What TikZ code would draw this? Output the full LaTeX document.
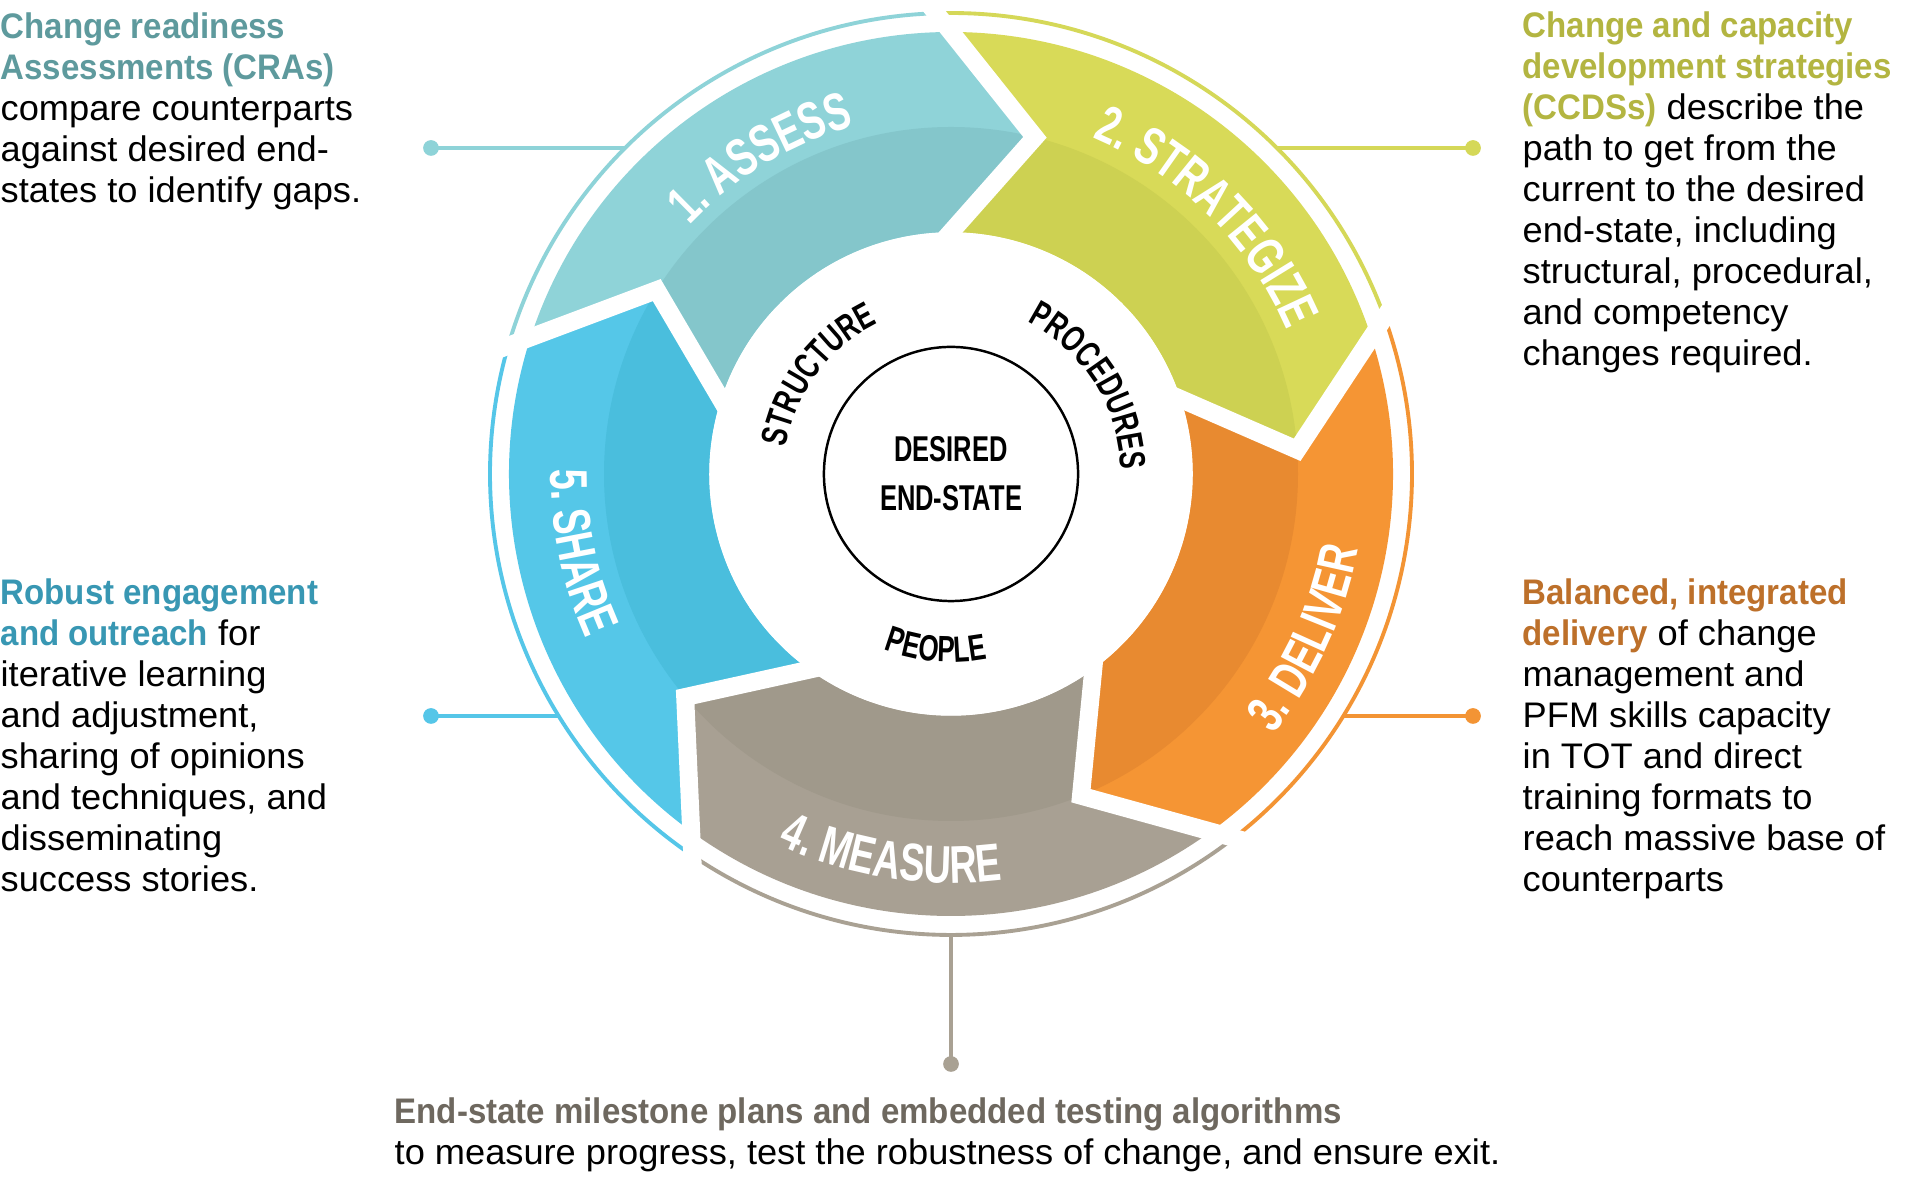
\documentclass[tikz,border=0pt]{standalone}
\usepackage{fontspec}
\setmainfont{Liberation Sans}
\newfontfamily\bodyfont{Liberation Sans}[FakeStretch=1.02]
\newfontfamily\titlefont{Liberation Sans}[FakeStretch=0.93]
\newfontfamily\condfont{Liberation Sans}[FakeStretch=0.71]
\usetikzlibrary{decorations.text,calc}

\definecolor{aL}{HTML}{8FD3D8}\definecolor{aD}{HTML}{84C6CB}\definecolor{aR}{HTML}{8ED3D8}
\definecolor{sL}{HTML}{D8DA58}\definecolor{sD}{HTML}{CDD152}\definecolor{sR}{HTML}{D5D858}
\definecolor{dL}{HTML}{F59534}\definecolor{dD}{HTML}{E88A30}\definecolor{dR}{HTML}{F39434}
\definecolor{mL}{HTML}{A8A093}\definecolor{mD}{HTML}{A0998B}\definecolor{mR}{HTML}{A9A193}
\definecolor{hL}{HTML}{55C7E8}\definecolor{hD}{HTML}{4ABEDD}\definecolor{hR}{HTML}{55C6E8}
\definecolor{cA}{HTML}{5E9A9D}\definecolor{cB}{HTML}{B3B541}\definecolor{cC}{HTML}{3897B3}
\definecolor{cD}{HTML}{BD702A}\definecolor{cE}{HTML}{6E685F}

\newcommand\hl[2]{{\titlefont\bfseries\color{#1}#2}}
\newcommand\ringfmt{\condfont\bfseries\fontsize{15.1}{18}\selectfont\color{white}}
\newcommand\innerfmt{\condfont\bfseries\fontsize{10.4}{12}\selectfont\color{black}}
\newcommand\segshape[2]{(#1:442) arc[start angle=#1, end angle=#2, radius=442] -- ({#2-14}:347) -- (#2:242) arc[start angle=#2, end angle=#1, radius=242] -- ({#1-14}:347) -- cycle}
\newcommand\segment[4]{%
  \fill[#3] \segshape{#1}{#2};
  \begin{scope}\clip \segshape{#1}{#2};\fill[#4] (0,0) circle[radius=347];\end{scope}}

\begin{document}
\begin{tikzpicture}[x=0.01cm,y=0.01cm,
  body/.style={inner sep=0pt, anchor=base west, align=left, font=\bodyfont\fontsize{10.1}{11.66}\selectfont},
  dot/.style={circle, inner sep=0pt, minimum size=0.157cm},
  ringline/.style={line width=1.1pt},
  sepline/.style={white, line width=5.1pt, line join=miter, line cap=butt},
  arclabel/.style={decorate, decoration={text along path, text align=center, text={#1}}}
]
\fill[white] (0,0) rectangle (1920,1179);
\useasboundingbox (0,0) rectangle (1920,1179);

\begin{scope}[shift={(951,705)}]
  \coordinate (ra) at (135:461);
  \coordinate (rs) at (45:461);
  \coordinate (rd) at (-31.66:461);
  \coordinate (rh) at (211.66:461);
  \coordinate (rm) at (-90:461);
  % outer thin ring
  \draw[ringline, aR] (163.7:461) arc[start angle=163.7, end angle=91.7, radius=461];
  \draw[ringline, sR] (91.7:461) arc[start angle=91.7, end angle=19.7, radius=461];
  \draw[ringline, dR] (19.7:461) arc[start angle=19.7, end angle=-52.3, radius=461];
  \draw[ringline, mR] (-52.3:461) arc[start angle=-52.3, end angle=-124.3, radius=461];
  \draw[ringline, hR] (-124.3:461) arc[start angle=-124.3, end angle=-196.3, radius=461];
  % segments
  \segment{162}{90}{aL}{aD}
  \segment{90}{18}{sL}{sD}
  \segment{18}{-54}{dL}{dD}
  \segment{-54}{-126}{mL}{mD}
  \segment{-126}{-198}{hL}{hD}
  % separators
  \foreach \t in {90,18,-54,-126,162}{
    \draw[sepline] ($({\t-14}:347)!1.3!(\t:442)$) -- ({\t-14}:347) -- ($({\t-14}:347)!1.08!(\t:242)$);
  }
  % ring labels
  \path[arclabel={|\ringfmt|1. ASSESS}] (166:361) arc[start angle=166, end angle=76, radius=361];
  \path[arclabel={|\ringfmt|2. STRATEGIZE}] (90.2:365) arc[start angle=90.2, end angle=0.2, radius=365];
  \path[arclabel={|\ringfmt|3. DELIVER}] (-69.7:414) arc[start angle=-69.7, end angle=20.3, radius=414];
  \path[arclabel={|\ringfmt|4. MEASURE}] (-143.9:409) arc[start angle=-143.9, end angle=-53.9, radius=409];
  \path[arclabel={|\ringfmt|5. SHARE}] (146.8:400) arc[start angle=146.8, end angle=236.8, radius=400];
  % inner labels
  \path[arclabel={|\innerfmt|STRUCTURE}] (203.3:167) arc[start angle=203.3, end angle=83.3, radius=167];
  \path[arclabel={|\innerfmt|PROCEDURES}] (92.4:170) arc[start angle=92.4, end angle=-27.6, radius=170];
  \path[arclabel={|\innerfmt|PEOPLE}] (-154.9:188) arc[start angle=-154.9, end angle=-34.9, radius=188];
\end{scope}

% core
\node[circle, draw=black, line width=0.7pt, minimum size=2.54cm, inner sep=0pt, align=center,
  font=\condfont\bfseries\fontsize{10.2}{13.9}\selectfont] (core) at (951,705) {DESIRED\\END-STATE};

% dots and connectors
\node[dot, fill=aR] (da) at (431,1031) {};
\node[dot, fill=sR] (ds) at (1473,1031) {};
\node[dot, fill=hR] (dh) at (431,463) {};
\node[dot, fill=dR] (dd) at (1473,463) {};
\node[dot, fill=mR] (dm) at (951,115) {};
\draw[ringline, aR] (ra) -- (da.center);
\draw[ringline, sR] (rs) -- (ds.center);
\draw[ringline, hR] (rh) -- (dh.center);
\draw[ringline, dR] (rd) -- (dd.center);
\draw[ringline, mR] (rm) -- (dm.center);

% text blocks (anchored at the baseline of their last line)
\node[body] (ta) at (0,976) {\hl{cA}{Change readiness}\\\hl{cA}{Assessments (CRAs)}\\compare counterparts\\against desired end-\\states to identify gaps.};
\node[body] (ts) at (1522,813) {\hl{cB}{Change and capacity}\\\hl{cB}{development strategies}\\\hl{cB}{(CCDSs)} describe the\\path to get from the\\current to the desired\\end-state, including\\structural, procedural,\\and competency\\changes required.};
\node[body] (th) at (0,287) {\hl{cC}{Robust engagement}\\\hl{cC}{and outreach} for\\iterative learning\\and adjustment,\\sharing of opinions\\and techniques, and\\disseminating\\success stories.};
\node[body] (td) at (1522,287) {\hl{cD}{Balanced, integrated}\\\hl{cD}{delivery} of change\\management and\\PFM skills capacity\\in TOT and direct\\training formats to\\reach massive base of\\counterparts};
\node[body] (tm) at (394,14) {\hl{cE}{End-state milestone plans and embedded testing algorithms}\\to measure progress, test the robustness of change, and ensure exit.};
\end{tikzpicture}
\end{document}
